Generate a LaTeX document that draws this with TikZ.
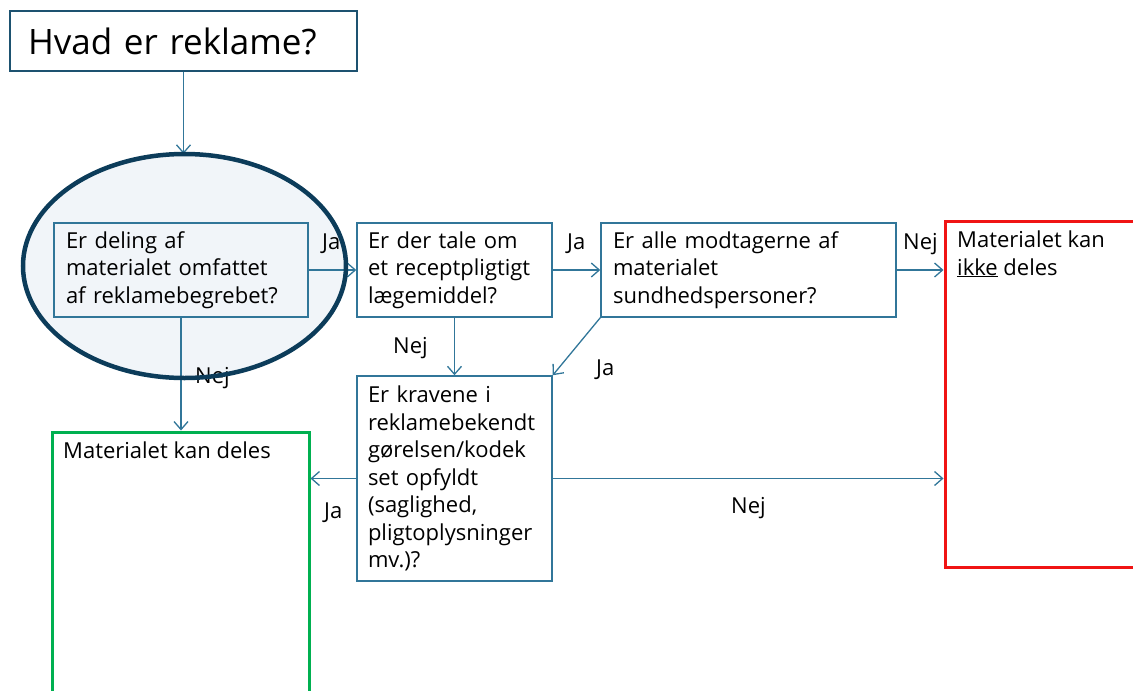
\documentclass[tikz,border=0pt]{standalone}
\usepackage{fontspec}
\setmainfont{Open Sans}
\usetikzlibrary{arrows.meta,shapes.geometric,calc}
\definecolor{boxc}{RGB}{49,118,153}
\definecolor{titlec}{RGB}{29,82,112}
\definecolor{ellc}{RGB}{12,60,90}
\definecolor{ellfill}{RGB}{241,245,249}
\definecolor{redc}{RGB}{240,20,20}
\definecolor{greenc}{RGB}{0,176,80}
\begin{document}
\begin{tikzpicture}[x=1pt,y=-1pt,
  box/.style={draw=boxc,line width=1.5pt,align=left,inner ysep=0pt,font=\fontsize{22}{27.5}\selectfont},
  lab/.style={font=\fontsize{22}{27.5}\selectfont,anchor=base west,inner sep=0pt},
  arr/.style={draw=boxc,line width=1.3pt,-{Straight Barb[length=8pt,width=14pt]}},
]
\useasboundingbox (0,0) rectangle (1133,691);
\node[ellipse, fill=ellfill, minimum width=323pt, minimum height=224pt, inner sep=0pt] (ellb) at (184.5,266) {};
\node[draw=titlec, line width=1.5pt, minimum width=347pt, minimum height=60pt, text width=311pt, inner xsep=18pt, align=left, font=\fontsize{35}{42}\selectfont] (title) at (183.5,41) {Hvad er reklame?};
\node[box, text width=230pt, inner xsep=12pt, minimum height=94pt] (q1) at (181,270) {Er deling af\\materialet omfattet\\af reklamebegrebet?};
\node[box, text width=173pt, inner xsep=11pt, minimum height=94pt] (q2) at (454.5,270) {Er der tale om\\et receptpligtigt\\lægemiddel?};
\node[box, text width=271pt, inner xsep=12pt, minimum height=94pt] (q3) at (748.5,270) {Er alle modtagerne af\\materialet\\sundhedspersoner?};
\node[box, text width=173pt, inner xsep=11pt, minimum height=205pt] (q4) at (454.5,478.5) {Er kravene i\\reklamebekendt\\gørelsen/kodek\\set opfyldt\\(saglighed,\\pligtoplysninger\\mv.)?};
\node[draw=redc, line width=3pt, minimum width=200pt, minimum height=346pt, inner sep=0pt] (no) at (1045,394) {};
\node[draw=greenc, line width=3pt, minimum width=257pt, minimum height=280pt, inner sep=0pt] (yes) at (180.5,572) {};
\node[lab] (notxt) at (957,247) {Materialet kan};
\node[lab] (notxt2) at (957,275) {\underline{ikke} deles};
\node[lab] (yestxt) at (63,458) {Materialet kan deles};
\draw[arr] (title.south) -- (title.south |- ellb.north);
\draw[arr] (q1.east) -- (q2.west);
\draw[arr] (q2.east) -- (q3.west);
\draw[arr] (q3.east) -- (q3.east -| no.west);
\draw[arr] (q2.south) -- (q4.north);
\draw[arr] (q3.south west) -- (q4.north east);
\draw[arr] (q1.south) -- (q1.south |- yes.north);
\draw[arr] (q4.west) -- (q4.west -| yes.east);
\draw[arr] (q4.east) -- (q4.east -| no.west);
\node[lab] (l1) at (322,249) {Ja};
\node[lab] (l2) at (567,249) {Ja};
\node[lab] (l3) at (903,249) {Nej};
\node[lab] (l4) at (393,353) {Nej};
\node[lab] (l5) at (596,375) {Ja};
\node[lab] (l6) at (195,383) {Nej};
\node[lab] (l7) at (324,518) {Ja};
\node[lab] (l8) at (731,513) {Nej};
\node[ellipse, draw=ellc, line width=4.5pt, minimum width=323pt, minimum height=224pt, inner sep=0pt] (ell) at (184.5,266) {};
\end{tikzpicture}
\end{document}
